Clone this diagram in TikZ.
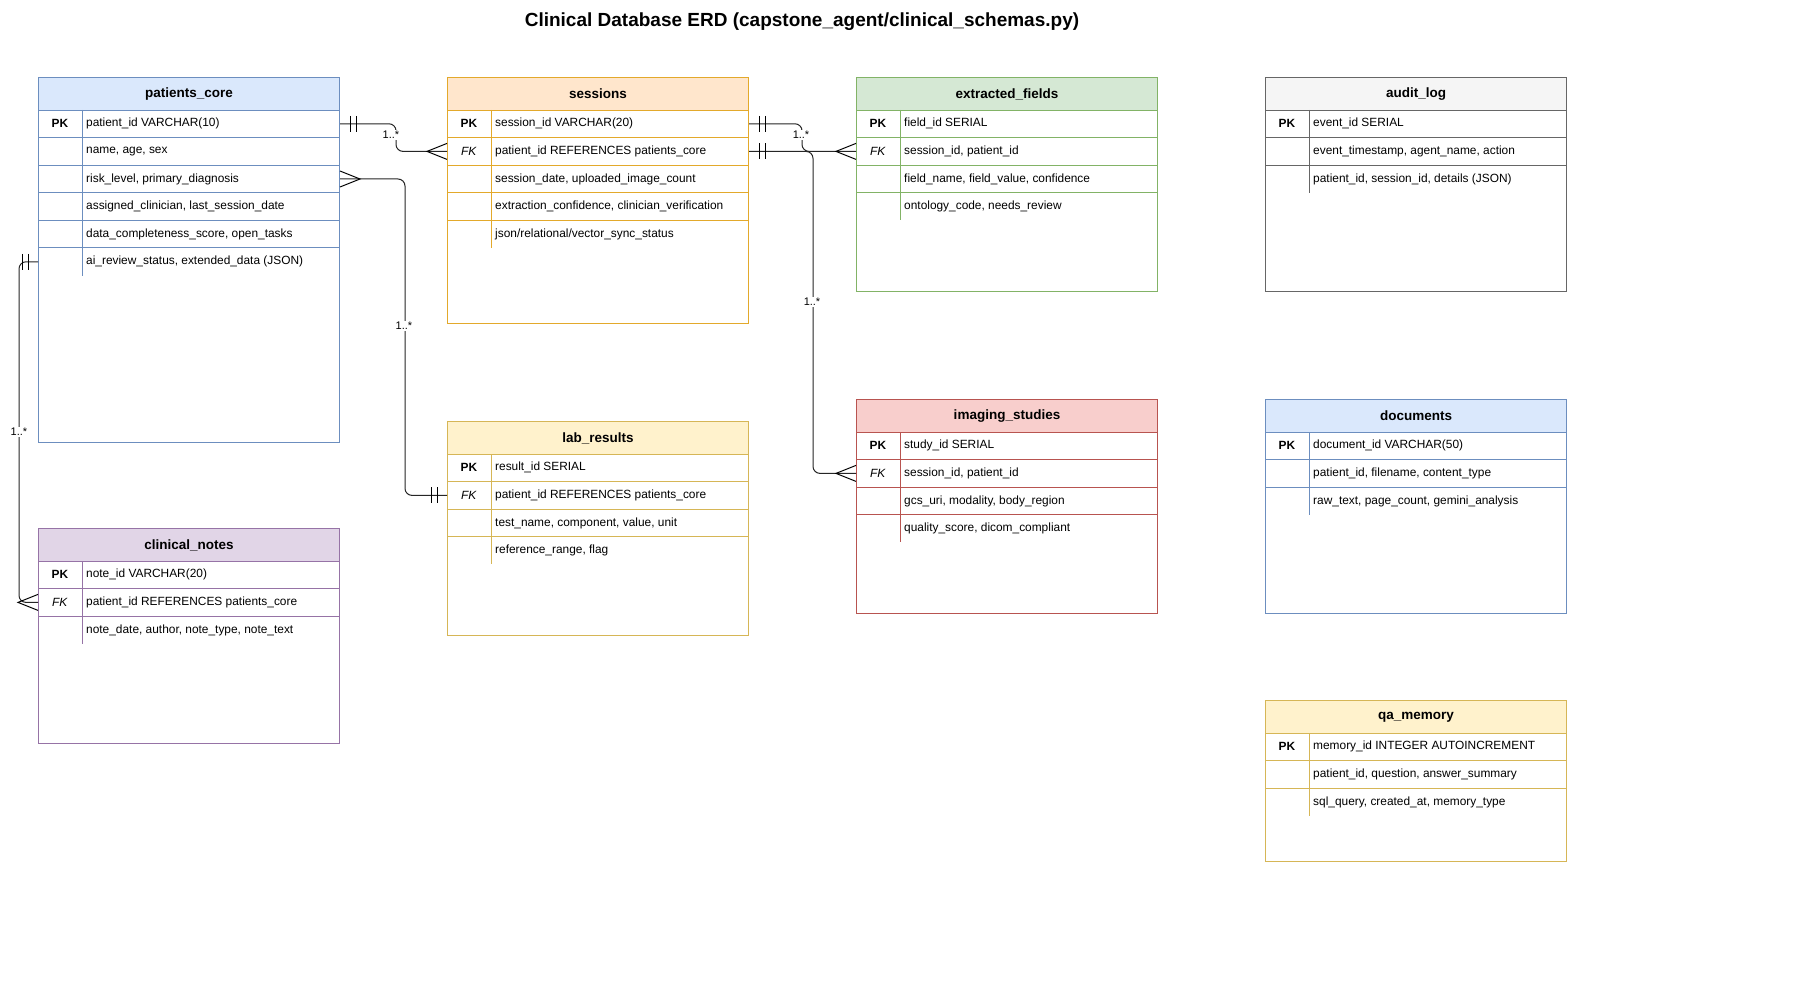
\documentclass[tikz,border=0pt]{standalone}
\usepackage{fontspec}
\setmainfont{Liberation Sans}
\usepackage{tikz}
\usetikzlibrary{calc}

\definecolor{bluefill}{HTML}{DAE8FC}\definecolor{blueline}{HTML}{6C8EBF}
\definecolor{orangefill}{HTML}{FFE6CC}\definecolor{orangeline}{HTML}{E3A92B}
\definecolor{greenfill}{HTML}{D5E8D4}\definecolor{greenline}{HTML}{82B366}
\definecolor{greyfill}{HTML}{F5F5F5}\definecolor{greyline}{HTML}{666666}
\definecolor{redfill}{HTML}{F8CECC}\definecolor{redline}{HTML}{B85450}
\definecolor{yellowfill}{HTML}{FFF2CC}\definecolor{yellowline}{HTML}{D6B656}
\definecolor{purplefill}{HTML}{E1D5E7}\definecolor{purpleline}{HTML}{9673A6}

\tikzset{
  rowtext/.style={anchor=west, inner sep=0pt, font=\fontsize{11.9}{14}\selectfont},
  keytext/.style={inner sep=0pt, font=\fontsize{11.9}{14}\selectfont},
  headtext/.style={font=\fontsize{13.5}{16}\selectfont\bfseries},
  relline/.style={draw=black!85, line width=1pt, rounded corners=7},
  cardlabel/.style={fill=white, inner sep=1pt, font=\fontsize{11}{13}\selectfont},
  onemk/.pic={\draw[line width=1pt] (10,-8)--(10,8) (16,-8)--(16,8);},
  crowmk/.pic={\draw[line width=1pt] (0,-8)--(20,0)--(0,8);}
}

% #1 name, #2 left, #3 top, #4 bottom, #5 colour, #6 title, #7 rows
\newcommand{\erdtable}[7]{
  \node[draw=#5line, fill=white, line width=1pt, anchor=north west, inner sep=0pt,
        minimum width=301, minimum height={(#4-#3)*1pt}] (#1) at (#2,#3) {};
  \node[draw=#5line, fill=#5fill, line width=1pt, anchor=north west, inner sep=0pt,
        minimum width=301, minimum height=33] (#1-head) at (#2,#3) {};
  \node[headtext] at (#1-head.center) {#6};
  \foreach \k/\t [count=\i] in {#7} {
    \pgfmathsetmacro\rowtop{#3+33+(\i-1)*27.6}
    \ifnum\i>1 \draw[#5line, line width=1pt] (#2,\rowtop) -- ++(301,0); \fi
    \draw[#5line, line width=1pt] (#2+44,\rowtop) -- ++(0,27.6);
    \node[keytext] (#1-k\i) at (#2+22,\rowtop+13.8) {\k};
    \node[rowtext] (#1-\i) at (#2+48,\rowtop+13.8) {\t};
  }
}

\begin{document}
\begin{tikzpicture}[x=1pt, y=-1pt]
  \useasboundingbox[fill=white] (0,0) rectangle (1800,992);

  \node[font=\fontsize{19}{23}\selectfont\bfseries] (title) at (802,22)
    {Clinical Database ERD (capstone\_agent/clinical\_schemas.py)};

  \erdtable{pc}{38}{77}{442}{blue}{patients\_core}{
    \textbf{PK}/{patient\_id VARCHAR(10)}, /{name, age, sex},
    /{risk\_level, primary\_diagnosis}, /{assigned\_clinician, last\_session\_date},
    /{data\_completeness\_score, open\_tasks}, /{ai\_review\_status, extended\_data (JSON)}}
  \erdtable{ss}{447}{77}{323}{orange}{sessions}{
    \textbf{PK}/{session\_id VARCHAR(20)}, \textit{FK}/{patient\_id REFERENCES patients\_core},
    /{session\_date, uploaded\_image\_count}, /{extraction\_confidence, clinician\_verification},
    /{json/relational/vector\_sync\_status}}
  \erdtable{ef}{856}{77}{291}{green}{extracted\_fields}{
    \textbf{PK}/{field\_id SERIAL}, \textit{FK}/{session\_id, patient\_id},
    /{field\_name, field\_value, confidence}, /{ontology\_code, needs\_review}}
  \erdtable{al}{1265}{77}{291}{grey}{audit\_log}{
    \textbf{PK}/{event\_id SERIAL}, /{event\_timestamp, agent\_name, action},
    /{patient\_id, session\_id, details (JSON)}}
  \erdtable{is}{856}{399}{613}{red}{imaging\_studies}{
    \textbf{PK}/{study\_id SERIAL}, \textit{FK}/{session\_id, patient\_id},
    /{gcs\_uri, modality, body\_region}, /{quality\_score, dicom\_compliant}}
  \erdtable{lr}{447}{421}{635}{yellow}{lab\_results}{
    \textbf{PK}/{result\_id SERIAL}, \textit{FK}/{patient\_id REFERENCES patients\_core},
    /{test\_name, component, value, unit}, /{reference\_range, flag}}
  \erdtable{dc}{1265}{399}{613}{blue}{documents}{
    \textbf{PK}/{document\_id VARCHAR(50)}, /{patient\_id, filename, content\_type},
    /{raw\_text, page\_count, gemini\_analysis}}
  \erdtable{cn}{38}{528}{743}{purple}{clinical\_notes}{
    \textbf{PK}/{note\_id VARCHAR(20)}, \textit{FK}/{patient\_id REFERENCES patients\_core},
    /{note\_date, author, note\_type, note\_text}}
  \erdtable{qa}{1265}{700}{861}{yellow}{qa\_memory}{
    \textbf{PK}/{memory\_id INTEGER AUTOINCREMENT}, /{patient\_id, question, answer\_summary},
    /{sql\_query, created\_at, memory\_type}}

  % relationships
  \coordinate (r1a) at (pc.east |- pc-1);
  \coordinate (r1b) at (ss.west |- ss-2);
  \draw[relline] (r1a) -- ++(56,0) |- (r1b);
  \pic at (r1a) {onemk};
  \pic[xscale=-1] at (r1b) {crowmk};
  \node[cardlabel] at (391,135) {1..*};

  \coordinate (r2a) at (ss.east |- ss-1);
  \coordinate (r2b) at (ef.west |- ef-2);
  \draw[relline] (r2a) -- ++(53,0) |- (r2b);
  \pic at (r2a) {onemk};
  \pic[xscale=-1] at (r2b) {crowmk};
  \node[cardlabel] at (801,135) {1..*};

  \coordinate (r3a) at (ss.east |- ss-2);
  \coordinate (r3b) at (is.west |- is-2);
  \draw[relline] (r3a) -- ++(64,0) |- (r3b);
  \pic at (r3a) {onemk};
  \pic[xscale=-1] at (r3b) {crowmk};
  \node[cardlabel] at (812,302) {1..*};

  \coordinate (r4a) at (pc.east |- pc-3);
  \coordinate (r4b) at (lr.west |- lr-2);
  \draw[relline] (r4a) -- ++(65,0) |- (r4b);
  \pic at (r4a) {crowmk};
  \pic[xscale=-1] at (r4b) {onemk};
  \node[cardlabel] at (404,326) {1..*};

  \coordinate (r5a) at (pc.west |- pc-6);
  \coordinate (r5b) at (cn.west |- cn-2);
  \draw[relline] (r5a) -- ++(-19,0) |- (r5b);
  \pic[xscale=-1] at (r5a) {onemk};
  \pic[xscale=-1] at (r5b) {crowmk};
  \node[cardlabel] at (19,432) {1..*};
\end{tikzpicture}
\end{document}
